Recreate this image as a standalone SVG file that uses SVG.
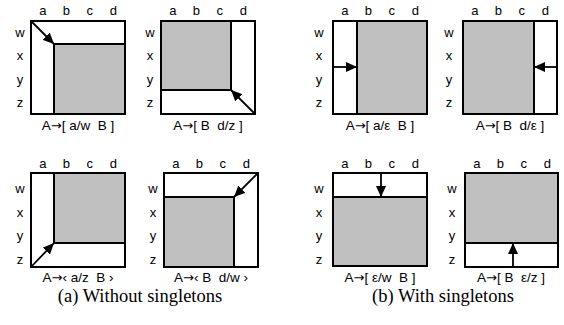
<svg xmlns="http://www.w3.org/2000/svg" width="564" height="325" viewBox="0 0 564 325">
<style>
.box{fill:#fff;stroke:#000;stroke-width:2}
.g{fill:#c0c0c0;stroke:#000;stroke-width:2}
.t{font-family:"Liberation Sans","Open Sans",sans-serif;font-size:13px;fill:#000;text-anchor:middle}
.lab{font-family:"Liberation Sans","Open Sans",sans-serif;font-size:13.5px;fill:#000;text-anchor:middle;white-space:pre}
.arw{font-family:"DejaVu Sans",sans-serif;font-size:13px}
.cap{font-family:"Liberation Serif","Times New Roman",serif;font-size:18.5px;fill:#000;text-anchor:middle}
.ar{stroke:#000;stroke-width:1.8;fill:none;marker-end:url(#ah)}
</style>
<defs>
<marker id="ah" markerUnits="userSpaceOnUse" markerWidth="12" markerHeight="10" refX="11" refY="5" orient="auto">
<path d="M0,0 L11,5 L0,10 Z" fill="#000"/>
</marker>
</defs>
<rect width="564" height="325" fill="#fff"/>

<g id="p1">
<rect class="box" x="31" y="21" width="94" height="93"/>
<rect class="g" x="54" y="44" width="71" height="70"/>
<text class="t" x="42.75" y="15">a</text><text class="t" x="66.25" y="15">b</text><text class="t" x="89.75" y="15">c</text><text class="t" x="113.25" y="15">d</text>
<text class="t" x="20" y="37">w</text><text class="t" x="20" y="60">x</text><text class="t" x="20" y="84">y</text><text class="t" x="20" y="107">z</text>
<text class="lab" x="78" y="130">A<tspan class="arw">→</tspan>[ a/w  B ]</text>
</g>

<g id="p2">
<rect class="box" x="161" y="21" width="94" height="93"/>
<rect class="g" x="161" y="21" width="70" height="69"/>
<text class="t" x="172.75" y="15">a</text><text class="t" x="196.25" y="15">b</text><text class="t" x="219.75" y="15">c</text><text class="t" x="243.25" y="15">d</text>
<text class="t" x="150" y="37">w</text><text class="t" x="150" y="60">x</text><text class="t" x="150" y="84">y</text><text class="t" x="150" y="107">z</text>
<text class="lab" x="208" y="130">A<tspan class="arw">→</tspan>[ B  d/z ]</text>
</g>

<g id="p3">
<rect class="box" x="31" y="173" width="94" height="94"/>
<rect class="g" x="54" y="173" width="71" height="70"/>
<text class="t" x="42.75" y="168">a</text><text class="t" x="66.25" y="168">b</text><text class="t" x="89.75" y="168">c</text><text class="t" x="113.25" y="168">d</text>
<text class="t" x="20" y="193">w</text><text class="t" x="20" y="217">x</text><text class="t" x="20" y="240">y</text><text class="t" x="20" y="264">z</text>
<text class="lab" x="78" y="282">A<tspan class="arw">→</tspan>‹ a/z  B ›</text>
</g>

<g id="p4">
<rect class="box" x="164" y="173" width="94" height="94"/>
<rect class="g" x="164" y="197" width="70" height="70"/>
<text class="t" x="175.75" y="168">a</text><text class="t" x="199.25" y="168">b</text><text class="t" x="222.75" y="168">c</text><text class="t" x="246.25" y="168">d</text>
<text class="t" x="153" y="193">w</text><text class="t" x="153" y="217">x</text><text class="t" x="153" y="240">y</text><text class="t" x="153" y="264">z</text>
<text class="lab" x="211" y="282">A<tspan class="arw">→</tspan>‹ B  d/w ›</text>
</g>

<g id="p5">
<rect class="box" x="333" y="21" width="94" height="93"/>
<rect class="g" x="357" y="21" width="70" height="93"/>
<text class="t" x="344.75" y="15">a</text><text class="t" x="368.25" y="15">b</text><text class="t" x="391.75" y="15">c</text><text class="t" x="415.25" y="15">d</text>
<text class="t" x="319" y="37">w</text><text class="t" x="319" y="60">x</text><text class="t" x="319" y="84">y</text><text class="t" x="319" y="107">z</text>
<text class="lab" x="380" y="130">A<tspan class="arw">→</tspan>[ a/ε  B ]</text>
</g>

<g id="p6">
<rect class="box" x="463" y="21" width="94" height="93"/>
<rect class="g" x="463" y="21" width="71" height="93"/>
<text class="t" x="474.75" y="15">a</text><text class="t" x="498.25" y="15">b</text><text class="t" x="521.75" y="15">c</text><text class="t" x="545.25" y="15">d</text>
<text class="t" x="449" y="37">w</text><text class="t" x="449" y="60">x</text><text class="t" x="449" y="84">y</text><text class="t" x="449" y="107">z</text>
<text class="lab" x="510" y="130">A<tspan class="arw">→</tspan>[ B  d/ε ]</text>
</g>

<g id="p7">
<rect class="box" x="333" y="173" width="94" height="93"/>
<rect class="g" x="333" y="197" width="94" height="69"/>
<text class="t" x="344.75" y="168">a</text><text class="t" x="368.25" y="168">b</text><text class="t" x="391.75" y="168">c</text><text class="t" x="415.25" y="168">d</text>
<text class="t" x="319" y="193">w</text><text class="t" x="319" y="217">x</text><text class="t" x="319" y="240">y</text><text class="t" x="319" y="264">z</text>
<text class="lab" x="380" y="282">A<tspan class="arw">→</tspan>[ ε/w  B ]</text>
</g>

<g id="p8">
<rect class="box" x="465" y="173" width="93" height="94"/>
<rect class="g" x="465" y="173" width="93" height="70"/>
<text class="t" x="476.75" y="168">a</text><text class="t" x="500.25" y="168">b</text><text class="t" x="523.75" y="168">c</text><text class="t" x="547.25" y="168">d</text>
<text class="t" x="452" y="193">w</text><text class="t" x="452" y="217">x</text><text class="t" x="452" y="240">y</text><text class="t" x="452" y="264">z</text>
<text class="lab" x="511" y="282">A<tspan class="arw">→</tspan>[ B  ε/z ]</text>
</g>

<g id="connectors">
<line class="ar" x1="31" y1="21" x2="54" y2="44"/>
<line class="ar" x1="255" y1="114" x2="231" y2="90"/>
<line class="ar" x1="31" y1="267" x2="54" y2="243"/>
<line class="ar" x1="258" y1="173" x2="234" y2="197"/>
<line class="ar" x1="333" y1="67" x2="357" y2="67"/>
<line class="ar" x1="557" y1="67" x2="534" y2="67"/>
<line class="ar" x1="381" y1="173" x2="381" y2="197"/>
<line class="ar" x1="513" y1="267" x2="513" y2="243"/>
</g>

<text class="cap" x="140" y="302">(a) Without singletons</text>
<text class="cap" x="443" y="302">(b) With singletons</text>
</svg>
